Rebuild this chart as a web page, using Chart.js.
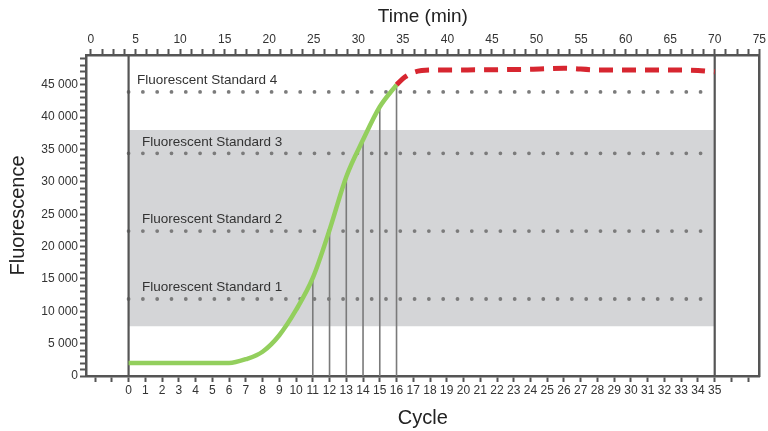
<!DOCTYPE html>
<html>
<head>
<meta charset="utf-8">
<script src="https://cdn.jsdelivr.net/npm/chart.js@4.4.1/dist/chart.umd.min.js"></script>
<style>
  html, body { margin: 0; padding: 0; background: #fff; }
  #wrap { width: 768px; height: 431px; }
</style>
</head>
<body>
<div id="wrap"><canvas id="grafico"></canvas></div>
<script>
// curve data (x = cycle, y = fluorescence)
const curveCycles = [0, 2, 4, 6, 7, 8, 9, 10, 11, 12, 13, 14, 15, 16];
const curveValues = [2000, 2000, 2000, 2000, 2600, 3750, 6300, 10200, 15150, 22570, 30800, 36500, 41600, 45000];

const plateauCycles = [16, 16.5, 17, 17.5, 18, 20, 24, 26, 28, 31, 34, 35];
const plateauValues = [45000, 46200, 46900, 47200, 47300, 47300, 47400, 47550, 47300, 47300, 47200, 47000];

const standardNames = ["Fluorescent Standard 1", "Fluorescent Standard 2", "Fluorescent Standard 3", "Fluorescent Standard 4"];
const standardValues = [11900, 22400, 34400, 43900];

const bandLow = 7700;
const bandHigh = 38000;

const markedCycles = [11, 12, 13, 14, 15, 16];
const boundCycles = [0, 35];

const cycleLabels = [0, 35];     // first / last labelled cycle
const timeRange = [-0.556, 75.03];
const cycleRange = [-2.543, 37.68];
const fluoRange = [0, 49600];
const fluoStep = 1000;
const fluoLabelStep = 5000;

const FONT = "'Liberation Sans', Arial, Helvetica, sans-serif";
const AXIS = "#555";

const datasets = [];

// green amplification curve
datasets.push({
  data: curveCycles.map((c, i) => ({ x: c, y: curveValues[i] })),
  borderColor: "#93cf5d",
  borderWidth: 4.5,
  cubicInterpolationMode: "monotone",
  pointRadius: 0,
  order: 0
});

// red dashed plateau
datasets.push({
  data: plateauCycles.map((c, i) => ({ x: c, y: plateauValues[i] })),
  borderColor: "#d72630",
  borderWidth: 5,
  borderDash: [14, 9],
  cubicInterpolationMode: "monotone",
  pointRadius: 0,
  order: 1
});

// vertical lines from the axis up to the curve
markedCycles.forEach(c => {
  const v = curveValues[curveCycles.indexOf(c)];
  datasets.push({
    data: [{ x: c, y: 0 }, { x: c, y: v }],
    borderColor: "#7a7a7a",
    borderWidth: 1.6,
    pointRadius: 0,
    order: 2
  });
});

// full height lines at first and last cycle
boundCycles.forEach(c => {
  datasets.push({
    data: [{ x: c, y: fluoRange[0] }, { x: c, y: fluoRange[1] }],
    borderColor: AXIS,
    borderWidth: 2.2,
    pointRadius: 0,
    order: 2
  });
});

// dotted standard lines
standardValues.forEach(v => {
  datasets.push({
    data: [{ x: boundCycles[0], y: v }, { x: boundCycles[1], y: v }],
    borderColor: "#7b7b7b",
    borderWidth: 3.8,
    borderDash: [0, 14.3],
    borderCapStyle: "round",
    pointRadius: 0,
    order: 3
  });
});

// grey band
datasets.push({
  data: [{ x: boundCycles[0], y: bandHigh }, { x: boundCycles[1], y: bandHigh }],
  borderWidth: 0,
  borderColor: "rgba(0,0,0,0)",
  backgroundColor: "#d4d5d7",
  fill: { value: bandLow },
  pointRadius: 0,
  order: 4
});

// standard names above their dotted lines
const etiquetas = {
  id: "etiquetas",
  afterDatasetsDraw(chart) {
    const { ctx, scales } = chart;
    ctx.save();
    ctx.font = "13.5px " + FONT;
    ctx.fillStyle = "#333";
    ctx.textBaseline = "middle";
    standardNames.forEach((name, i) => {
      const y = scales.y.getPixelForValue(standardValues[i]);
      const x = i === 3 ? scales.x.left + 51 : scales.x.left + 56;
      ctx.fillText(name, x, y - 11.5);
    });
    ctx.restore();
  }
};

const espacios = v => String(v).replace(/\B(?=(\d{3})+(?!\d))/g, " ");

// y ticks every 1000 (set by hand, chart.js would stretch the step otherwise)
const fluoTicks = [];
for (let v = fluoRange[0]; v <= fluoRange[1]; v += fluoStep) fluoTicks.push({ value: v });

new Chart(document.getElementById("grafico"), {
  type: "line",
  data: { datasets },
  plugins: [etiquetas],
  options: {
    responsive: true,
    maintainAspectRatio: false,
    animation: false,
    layout: { padding: 0 },
    plugins: { legend: { display: false }, tooltip: { enabled: false } },
    scales: {
      x: {
        type: "linear",
        position: "bottom",
        min: cycleRange[0],
        max: cycleRange[1],
        afterFit: s => { s.height = 55; },
        ticks: {
          stepSize: 1,
          includeBounds: false,
          autoSkip: false,
          maxRotation: 0,
          padding: 1,
          color: "#333",
          font: { family: FONT, size: 12 },
          callback: v => (v >= cycleLabels[0] && v <= cycleLabels[1] ? String(v) : "")
        },
        grid: { drawOnChartArea: false, drawTicks: true, tickLength: 6, tickColor: AXIS, tickWidth: 2 },
        border: { color: AXIS, width: 2.5 },
        title: { display: true, text: "Cycle", color: "#222", font: { family: FONT, size: 20 }, padding: { bottom: 1 } }
      },
      xTime: {
        type: "linear",
        position: "top",
        min: timeRange[0],
        max: timeRange[1],
        afterFit: s => { s.height = 55; },
        ticks: {
          stepSize: 1.25,
          includeBounds: false,
          autoSkip: false,
          maxRotation: 0,
          padding: 2,
          color: "#333",
          font: { family: FONT, size: 12 },
          callback: v => (v % 5 === 0 ? String(v) : "")
        },
        grid: { drawOnChartArea: false, tickLength: 6, tickColor: AXIS, tickWidth: 2 },
        border: { color: AXIS, width: 2.5 },
        title: { display: true, text: "Time (min)", color: "#222", font: { family: FONT, size: 19 }, padding: { top: 5 } }
      },
      y: {
        type: "linear",
        position: "left",
        min: fluoRange[0],
        max: fluoRange[1],
        afterFit: s => { s.width = 86; },
        afterBuildTicks: s => { s.ticks = fluoTicks.map(t => ({ value: t.value })); },
        ticks: {
          autoSkip: false,
          padding: 2,
          color: "#333",
          font: { family: FONT, size: 12 },
          callback: v => (Math.round(v) % fluoLabelStep === 0 ? espacios(Math.round(v)) : "")
        },
        grid: { drawOnChartArea: false, tickLength: 6, tickColor: AXIS, tickWidth: 2 },
        border: { color: AXIS, width: 2.5 },
        title: { display: true, text: "Fluorescence", color: "#222", font: { family: FONT, size: 20 }, padding: { top: 6 } }
      },
      yRight: {
        type: "linear",
        position: "right",
        min: fluoRange[0],
        max: fluoRange[1],
        afterFit: s => { s.width = 2; },
        ticks: { display: false },
        grid: { drawOnChartArea: false, drawTicks: false },
        border: { color: AXIS, width: 2.5 }
      }
    }
  }
});
</script>
</body>
</html>
